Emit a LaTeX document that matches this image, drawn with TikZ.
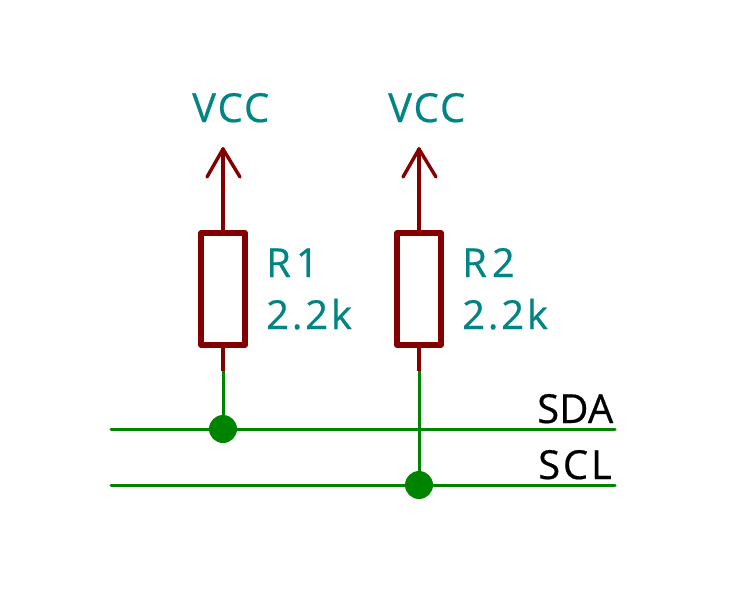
\documentclass[tikz,border=0pt]{standalone}
\usepackage{fontspec}
\setmainfont{Open Sans}
\newfontfamily\fa[RawFeature={embolden=0.5},LetterSpace=5]{Open Sans}
\newfontfamily\fb[RawFeature={embolden=0.5},LetterSpace=7]{Open Sans}
\newfontfamily\fc[RawFeature={embolden=0.5},LetterSpace=0.5]{Open Sans}
\definecolor{pwr}{RGB}{132,0,0}
\definecolor{wirec}{RGB}{0,132,0}
\definecolor{lab}{RGB}{0,132,132}
\tikzset{
 body/.style={draw=pwr,line width=5.5pt,line join=round,fill=white,rectangle,inner sep=0pt},
 pin/.style={draw=pwr,line width=3.4pt,line cap=round,line join=round},
 wire/.style={draw=wirec,line width=3pt,line cap=round},
 junc/.style={circle,fill=wirec,minimum size=28pt,inner sep=0pt},
 txt/.style={inner sep=0pt,anchor=base west,font=\fontsize{40}{40}\selectfont},
 val/.style={txt,text=lab},
 net/.style={txt,text=black}
}
\begin{document}
\begin{tikzpicture}[x=1pt,y=-1pt]
\useasboundingbox (0,0) rectangle (736,592);
\coordinate (t1) at (223,149); \coordinate (t2) at (419,149);
\coordinate (l1) at (207,177); \coordinate (r1) at (240,177);
\coordinate (l2) at (403,177); \coordinate (r2) at (436,177);
\node[body] (R1) at (223,289) {\rule{0pt}{112pt}\rule{44pt}{0pt}};
\node[body] (R2) at (419,289) {\rule{0pt}{112pt}\rule{44pt}{0pt}};
\coordinate (m1) at (223,371); \coordinate (m2) at (419,371);
\coordinate (a1) at (111,429); \coordinate (a2) at (615,429);
\coordinate (b1) at (111,485); \coordinate (b2) at (615,485);
\node[junc] (J1) at (223,429) {};
\node[junc] (J2) at (419,485) {};
\draw[wire] (a1) -- (a2);
\draw[wire] (b1) -- (b2);
\draw[wire] (m1) -- (J1.center);
\draw[wire] (m2) -- (J2.center);
\draw[pin] (R1.north) -- (t1);
\draw[pin] (R2.north) -- (t2);
\draw[pin] (l1) -- (t1) -- (r1);
\draw[pin] (l2) -- (t2) -- (r2);
\draw[pin,line cap=butt] (R1.south) -- (m1);
\draw[pin,line cap=butt] (R2.south) -- (m2);
\node[val] (v1) at (192,122) {\fa VCC};
\node[val] (v2) at (388,122) {\fa VCC};
\node[val] (n1) at (266,277) {\fa R\kern5pt 1};
\node[val] (n2) at (462,277) {\fa R\kern5pt 2};
\node[val] (k1) at (266,329) {\fb 2.2k};
\node[val] (k2) at (462,329) {\fb 2.2k};
\node[net] (sda) at (537,423) {\fc SDA};
\node[net] (scl) at (538,479) {\fb SCL};
\end{tikzpicture}
\end{document}
